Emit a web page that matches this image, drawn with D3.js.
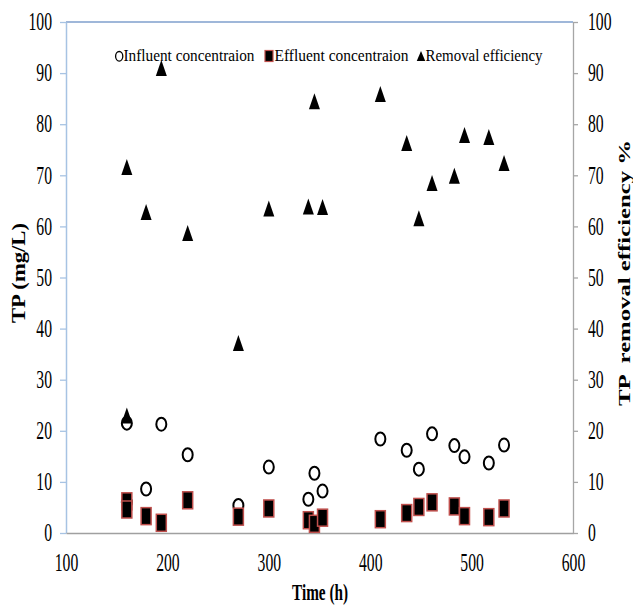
<!DOCTYPE html>
<html>
<head>
<meta charset="utf-8">
<script src="https://cdn.jsdelivr.net/npm/d3@7"></script>
<style>
  body { margin: 0; background: #fff; }
  text { font-family: "Liberation Serif", "Times New Roman", serif; fill: #000; }
</style>
</head>
<body>
<svg class="chart"></svg>
<script>
// sampling time (h) and the three measured series
var time     = [160, 160, 179, 194, 220, 270, 300, 339, 345, 353, 410, 436, 448, 461, 483, 493, 517, 532];
var influent = [21.5, 6.0, 8.6, 21.3, 15.3, 5.4, 12.9, 6.6, 11.7, 8.2, 18.4, 16.2, 12.5, 19.4, 17.1, 14.9, 13.7, 17.2];
var effluent = [6.2, 4.6, 3.3, 2.0, 6.4, 3.2, 4.8, 2.5, 1.8, 3.0, 2.7, 3.9, 5.1, 6.0, 5.2, 3.3, 3.1, 4.8];
var removal  = [71.6, 23.0, 62.8, 91.0, 58.7, 37.2, 63.5, 63.9, 84.5, 63.8, 85.9, 76.3, 61.6, 68.5, 69.9, 77.9, 77.5, 72.4];

var xTicks = [100, 200, 300, 400, 500, 600];
var yTicks = [0, 10, 20, 30, 40, 50, 60, 70, 80, 90, 100];
var legendNames = ["Influent concentraion", "Effluent concentraion", "Removal efficiency"];

var svg = d3.select('.chart')
            .attr('width', 633)
            .attr('height', 606);

var xScale = d3.scaleLinear().domain([100, 600]).range([66, 573]);
var yScale = d3.scaleLinear().domain([0, 100]).range([533, 22]);
var y2Scale = d3.scaleLinear().domain([0, 100]).range([533, 22]);

var stretch = 'scale(1,1.55)';

// top border
svg.append('line')
   .attr('x1', xScale(100)).attr('x2', xScale(600))
   .attr('y1', yScale(100)).attr('y2', yScale(100))
   .attr('stroke', '#7f9fcc').attr('stroke-width', 1.3);

// left axis
var yAxis = d3.axisLeft(yScale).tickValues(yTicks).tickSize(6).tickSizeOuter(0).tickPadding(8);
var gy = svg.append('g')
   .attr('transform', 'translate(' + xScale(100) + ',0)')
   .call(yAxis)
   .attr('font-family', null);
gy.select('.domain').attr('stroke', '#a7c3e3').attr('stroke-width', 1.5);
gy.selectAll('.tick line').attr('stroke', '#a7c3e3').attr('stroke-width', 1.3);
gy.selectAll('.tick text').attr('font-size', 15.7).attr('transform', stretch);

// right axis
var y2Axis = d3.axisRight(y2Scale).tickValues(yTicks).tickSize(5).tickSizeOuter(0).tickPadding(10);
var gy2 = svg.append('g')
   .attr('transform', 'translate(' + xScale(600) + ',0)')
   .call(y2Axis)
   .attr('font-family', null);
gy2.select('.domain').attr('stroke', '#a6a6a6').attr('stroke-width', 1.3);
gy2.selectAll('.tick line').attr('stroke', '#a6a6a6').attr('stroke-width', 1.3);
gy2.selectAll('.tick text').attr('font-size', 15.7).attr('transform', stretch);

// bottom axis
var xAxis = d3.axisBottom(xScale).tickValues(xTicks).tickSize(0).tickSizeOuter(0);
var gx = svg.append('g')
   .attr('transform', 'translate(0,' + yScale(0) + ')')
   .call(xAxis)
   .attr('font-family', null);
gx.select('.domain').attr('stroke', '#a0a0a0').attr('stroke-width', 1.5);
gx.selectAll('.tick text').attr('font-size', 15.7)
   .attr('y', 0).attr('dy', null)
   .attr('transform', 'translate(0,38) ' + stretch);

// axis titles
svg.append('text')
   .attr('transform', 'translate(25,273) rotate(-90)')
   .attr('text-anchor', 'middle')
   .attr('font-weight', 'bold')
   .attr('font-size', 19)
   .attr('textLength', 100).attr('lengthAdjust', 'spacingAndGlyphs')
   .text('TP (mg/L)');

svg.append('text')
   .attr('transform', 'translate(630,273) rotate(-90)')
   .attr('text-anchor', 'middle')
   .attr('font-weight', 'bold')
   .attr('font-size', 16)
   .attr('textLength', 266).attr('lengthAdjust', 'spacingAndGlyphs')
   .style('white-space', 'pre')
   .text('TP  removal efficiency %');

svg.append('text')
   .attr('transform', 'translate(320,600) scale(1,1.35)')
   .attr('text-anchor', 'middle')
   .attr('font-weight', 'bold')
   .attr('font-size', 17)
   .attr('textLength', 56).attr('lengthAdjust', 'spacingAndGlyphs')
   .text('Time (h)');

// influent (open circles)
svg.selectAll('ellipse.inf').data(influent)
   .enter()
   .append('ellipse')
   .attr('class', 'inf')
   .attr('cx', (d, i) => xScale(time[i]))
   .attr('cy', (d) => yScale(d))
   .attr('rx', 5).attr('ry', 6.5)
   .attr('fill', '#fff')
   .attr('stroke', '#000')
   .attr('stroke-width', 2);

// effluent (black squares, red edge)
svg.selectAll('rect.eff').data(effluent)
   .enter()
   .append('rect')
   .attr('class', 'eff')
   .attr('x', (d, i) => xScale(time[i]) - 5)
   .attr('y', (d) => yScale(d) - 8.5)
   .attr('width', 10).attr('height', 17)
   .attr('fill', '#000')
   .attr('stroke', '#c0504d')
   .attr('stroke-width', 1.5);

// removal efficiency (triangles, right axis)
var tri = (cx, cy, w, h) => 'M' + cx + ',' + (cy - h / 2) + 'L' + (cx + w / 2) + ',' + (cy + h / 2) + 'L' + (cx - w / 2) + ',' + (cy + h / 2) + 'Z';
svg.selectAll('path.rem').data(removal)
   .enter()
   .append('path')
   .attr('class', 'rem')
   .attr('d', (d, i) => tri(xScale(time[i]), y2Scale(d), 11, 16))
   .attr('fill', '#000');

// legend
var lg = svg.append('g');
lg.append('ellipse')
  .attr('cx', 119.2).attr('cy', 56.3).attr('rx', 3.6).attr('ry', 4.8)
  .attr('fill', '#fff').attr('stroke', '#000').attr('stroke-width', 1.3);
lg.append('rect')
  .attr('x', 265).attr('y', 50.5).attr('width', 8).attr('height', 11)
  .attr('fill', '#000').attr('stroke', '#c0504d').attr('stroke-width', 1.2);
lg.append('path')
  .attr('d', tri(421, 56, 8.5, 10))
  .attr('fill', '#000');

var legendX = [123.5, 274.5, 425.5];
var legendW = [131, 134, 117];
legendNames.forEach((name, i) => {
    lg.append('text')
      .attr('transform', 'translate(' + legendX[i] + ',61) scale(1,1.15)')
      .attr('font-size', 15.3)
      .attr('textLength', legendW[i]).attr('lengthAdjust', 'spacingAndGlyphs')
      .text(name);
});
</script>
</body>
</html>
